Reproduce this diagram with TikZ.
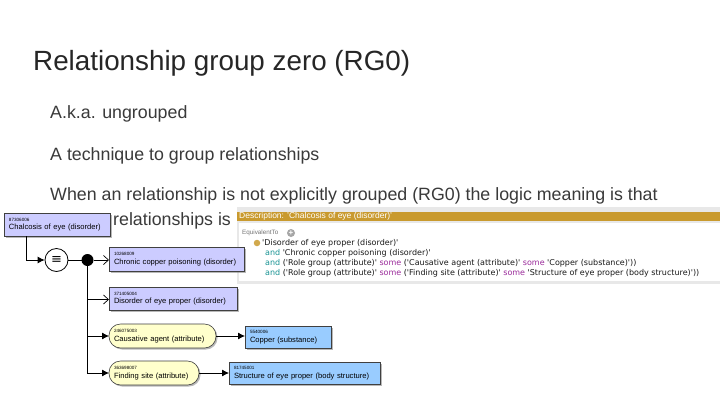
\documentclass[tikz,border=0pt]{standalone}
\usepackage{fontspec}
\setmainfont{Liberation Sans}
\setmonofont{DejaVu Sans Mono}
\newfontfamily\dejavu{DejaVu Sans}
\usetikzlibrary{arrows.meta,shadows,calc}
\definecolor{concept}{HTML}{CCCCFF}
\definecolor{attrc}{HTML}{FFFFCC}
\definecolor{valc}{HTML}{99CCFF}
\definecolor{goldbar}{HTML}{C99A2E}
\definecolor{andc}{HTML}{1A9494}
\definecolor{somec}{HTML}{9A2A9A}
\definecolor{titlec}{HTML}{262626}
\definecolor{bodyc}{HTML}{3A3A3A}
\newcommand\idf[1]{{\fontsize{4.6}{5}\selectfont #1}}
\newcommand\kwand{\textcolor{andc}{and}}
\newcommand\kwsome{\textcolor{somec}{some}}
\tikzset{
  concbox/.style={draw=black!75, line width=0.6pt, fill=concept,
    drop shadow={shadow xshift=1.5pt, shadow yshift=-1.5pt, fill=black!55},
    anchor=north west, inner xsep=5pt, inner ysep=1pt, outer sep=0pt,
    align=left, font=\fontsize{7.6}{8.6}\selectfont},
  attrbox/.style={concbox, fill=attrc, rounded corners=11.5pt},
  valbox/.style={concbox, fill=valc},
  conn/.style={draw=black, line width=0.8pt},
  solidtip/.style={-{Latex[length=7pt,width=7pt]}},
  opentip/.style={-{Straight Barb[length=5pt,width=9pt,line width=0.7pt]}},
  bodytext/.style={anchor=base west, inner sep=0pt, text=bodyc, font=\fontsize{17.8}{20}\selectfont},
  codeline/.style={anchor=base west, inner sep=0pt, font=\dejavu\fontsize{8}{9}\selectfont, text=black!90}
}
\begin{document}
\begin{tikzpicture}[x=1pt,y=-1pt]
\useasboundingbox (0,0) rectangle (720,405);
\fill[white] (0,0) rectangle (720,405);

% slide text
\node[anchor=base west, inner sep=0pt, text=titlec, font=\fontsize{27.8}{30}\selectfont] (title) at (33,70) {Relationship group zero (RG0)};
\node[bodytext] (b1) at (50,118) {A.k.a. ungrouped};
\node[bodytext] (b2) at (50,160) {A technique to group relationships};
\node[bodytext] (b3) at (50,200) {When an relationship is not explicitly grouped (RG0) the logic meaning is that};
\node[bodytext] (b4) at (113,225) {relationships is};

% description panel
\fill[black!9] (237,207) rectangle (720,284);
\fill[white] (239,223) rectangle (720,281);
\node[fill=goldbar, anchor=north west, minimum width=483pt, minimum height=9pt, inner sep=0pt, outer sep=0pt] (bar) at (237,212) {};
\node[anchor=west, inner sep=0pt, text=white, font=\fontsize{8.5}{9}\selectfont] (desc) at (239,216.5) {Description: 'Chalcosis of eye (disorder)'};
\node[anchor=west, inner sep=0pt, text=black!55, font=\fontsize{6.3}{7}\selectfont] (eqto) at (242,233) {EquivalentTo};
\node[circle, fill=black!35, minimum size=8pt, inner sep=0pt, text=white, font=\bfseries\fontsize{8}{8}\selectfont] (plus) at (291,233) {+};
\node[circle, fill=goldbar!85, minimum size=6.5pt, inner sep=0pt] (gdot) at (257,243) {};
\node[codeline] (l1) at (262,245.8) {'Disorder of eye proper (disorder)'};
\node[codeline] (l2) at (265,255.8) {\kwand{} 'Chronic copper poisoning (disorder)'};
\node[codeline] (l3) at (265,265.8) {\kwand{} ('Role group (attribute)' \kwsome{} ('Causative agent (attribute)' \kwsome{} 'Copper (substance)'))};
\node[codeline] (l4) at (265,275.5) {\kwand{} ('Role group (attribute)' \kwsome{} ('Finding site (attribute)' \kwsome{} 'Structure of eye proper (body structure)'))};

% diagram nodes
\node[concbox, text width=96pt, minimum height=23pt] (chal) at (4,213) {\idf{87306006}\\Chalcosis of eye (disorder)};
\node[circle, draw=black, line width=0.8pt, fill=white, minimum size=23pt, inner sep=0pt, font=\dejavu\fontsize{13}{13}\selectfont] (eq) at (56.5,260) {≡};
\node[circle, fill=black, minimum size=12pt, inner sep=0pt] (dot) at (87.5,260) {};
\node[concbox, text width=125pt, minimum height=24pt] (chron) at (109,247) {\idf{10268009}\\Chronic copper poisoning (disorder)};
\node[concbox, text width=118pt, minimum height=23pt] (dis) at (109,287) {\idf{371405004}\\Disorder of eye proper (disorder)};
\node[attrbox, text width=97pt, minimum height=24pt] (caus) at (109,324) {\idf{246075003}\\Causative agent (attribute)};
\node[attrbox, text width=80pt, minimum height=24pt] (find) at (109,361) {\idf{363698007}\\Finding site (attribute)};
\node[valbox, text width=76pt, minimum height=22pt] (cop) at (245,326) {\idf{5540006}\\Copper (substance)};
\node[valbox, text width=141pt, minimum height=22pt] (struc) at (229,362) {\idf{81745001}\\Structure of eye proper (body structure)};

% connectors
\draw[conn, solidtip] ([xshift=22pt]chal.south west) |- (eq.west);
\draw[conn] (eq.east) -- (dot.center);
\draw[conn, opentip] (dot.east) -- (dot.east -| chron.west);
\draw[conn, opentip] (dot.center) |- ([yshift=-1pt]dis.west);
\draw[conn, solidtip] (dot.center) |- (caus.west);
\draw[conn, solidtip] (dot.center) |- (find.west);
\draw[conn, solidtip] (caus.east) -- (caus.east -| cop.west);
\draw[conn, solidtip] (find.east) -- (find.east -| struc.west);
\end{tikzpicture}
\end{document}
